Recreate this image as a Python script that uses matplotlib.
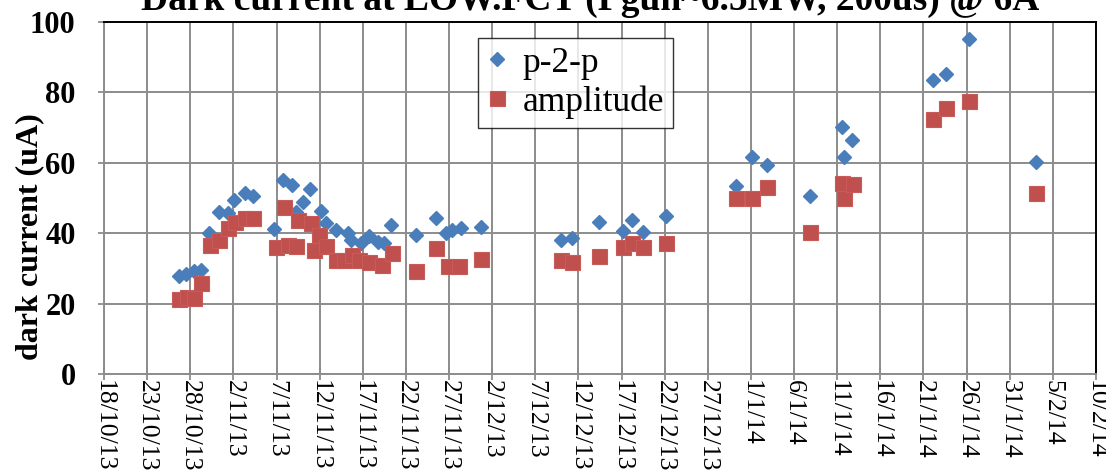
import matplotlib
matplotlib.use("Agg")
import matplotlib.pyplot as plt
import pandas as pd

# ---- data ----
p2p_dates = [
    "2013-10-26 15:30", "2013-10-27 13:00", "2013-10-28 10:00", "2013-10-29 06:30",
    "2013-10-30 04:00", "2013-10-31 09:00", "2013-11-01 08:00", "2013-11-02 03:00",
    "2013-11-03 09:40", "2013-11-04 07:50", "2013-11-06 18:10", "2013-11-07 17:15",
    "2013-11-08 19:20", "2013-11-09 06:30", "2013-11-10 00:45", "2013-11-10 21:20",
    "2013-11-12 03:50", "2013-11-12 17:45", "2013-11-13 21:30", "2013-11-15 05:45",
    "2013-11-15 15:15", "2013-11-16 19:00", "2013-11-17 18:00", "2013-11-18 17:00",
    "2013-11-19 11:45", "2013-11-20 06:20", "2013-11-23 03:45", "2013-11-25 11:20",
    "2013-11-26 15:00", "2013-11-27 09:30", "2013-11-28 08:45", "2013-11-30 16:20",
    "2013-12-09 22:30", "2013-12-11 06:45", "2013-12-14 09:00", "2013-12-17 03:40",
    "2013-12-18 05:30", "2013-12-19 12:00", "2013-12-22 05:00", "2013-12-30 06:20",
    "2014-01-01 02:45", "2014-01-02 20:30", "2014-01-07 21:00", "2014-01-11 12:45",
    "2014-01-11 17:30", "2014-01-12 18:30", "2014-01-22 03:30", "2014-01-23 14:45",
    "2014-01-26 06:40", "2014-02-03 00:45",
]
p2p_values = [
    27.8, 28.3, 29.3, 29.6,
    40.1, 45.9, 45.6, 49.4,
    51.5, 50.6, 41.1, 55.1,
    53.7, 46.1, 49.0, 52.5,
    46.3, 42.8, 40.9, 40.0,
    38.1, 37.1, 39.2, 37.6,
    37.1, 42.3, 39.5, 44.2,
    40.1, 40.9, 41.4, 41.7,
    38.1, 38.5, 43.3, 40.7,
    43.8, 40.4, 44.9, 53.4,
    61.6, 59.4, 50.7, 70.3,
    61.6, 66.5, 83.5, 85.1,
    95.2, 60.3,
]

amp_dates = [
    "2013-10-26 15:30", "2013-10-27 15:40", "2013-10-28 10:00", "2013-10-29 06:30",
    "2013-10-30 05:40", "2013-10-31 07:30", "2013-11-01 08:25", "2013-11-02 05:50",
    "2013-11-03 09:40", "2013-11-04 07:50", "2013-11-06 22:55", "2013-11-07 22:00",
    "2013-11-08 07:05", "2013-11-09 06:30", "2013-11-09 10:55", "2013-11-11 00:10",
    "2013-11-11 09:15", "2013-11-11 23:10", "2013-11-12 17:45", "2013-11-13 21:30",
    "2013-11-14 20:40", "2013-11-15 18:00", "2013-11-16 14:15", "2013-11-17 16:05",
    "2013-11-19 05:20", "2013-11-20 09:05", "2013-11-23 03:45", "2013-11-25 11:20",
    "2013-11-26 22:20", "2013-11-28 04:00", "2013-11-30 16:20", "2013-12-09 22:30",
    "2013-12-11 06:45", "2013-12-14 09:00", "2013-12-17 03:40", "2013-12-18 05:30",
    "2013-12-19 12:00", "2013-12-22 05:00", "2013-12-30 06:20", "2014-01-01 02:45",
    "2014-01-02 20:30", "2014-01-07 21:00", "2014-01-11 12:45", "2014-01-11 17:30",
    "2014-01-12 19:00", "2014-01-22 03:30", "2014-01-23 14:45", "2014-01-26 06:40",
    "2014-02-03 00:45",
]
amp_values = [
    21.2, 21.9, 21.5, 25.8,
    36.6, 38.1, 41.4, 43.3,
    44.2, 44.2, 36.0, 47.5,
    36.6, 36.4, 43.8, 42.8,
    35.2, 39.5, 36.4, 32.4,
    32.4, 33.8, 32.4, 31.9,
    31.0, 34.5, 29.4, 35.7,
    30.7, 30.7, 32.6, 32.4,
    31.9, 33.5, 36.0, 37.1,
    36.0, 37.1, 49.9, 49.9,
    53.0, 40.4, 54.4, 49.9,
    54.0, 72.4, 75.5, 77.6,
    51.5,
]

series_labels = ["p-2-p", "amplitude"]
title_text = "Dark current at LOW.FCT (Pgun~6.5MW, 200us) @ 6A"
y_label = "dark current (uA)"
x_start, x_end = "2013-10-18", "2014-02-10"

# ---- figure ----
W, H = 1106, 476
fig = plt.figure(figsize=(W / 100, H / 100), dpi=100)
ax = fig.add_axes([104 / W, 1 - 374 / H, (1096 - 104) / W, (374 - 22) / H])

serif = "Liberation Serif"
blue = "#4a7ebb"
red = "#c0504d"
grid_c = "#8c8c8c"

ax.plot(pd.to_datetime(p2p_dates), p2p_values, linestyle="none", marker="D",
        markersize=7.4, color=blue, markeredgecolor=blue, label=series_labels[0], zorder=3)
ax.plot(pd.to_datetime(amp_dates), amp_values, linestyle="none", marker="s",
        markersize=10.8, color=red, markeredgecolor="#c85a57", markeredgewidth=0.8,
        label=series_labels[1], zorder=4)

ax.set_xlim(pd.Timestamp(x_start), pd.Timestamp(x_end))
ax.set_ylim(0, 100)
ticks = pd.date_range(x_start, x_end, freq="5D")
ax.set_xticks(ticks)
ax.set_xticklabels([f"{d.day}/{d.month}/{d.year % 100}" for d in ticks],
                   rotation=-90, fontfamily=serif, fontsize=18.5)
ax.set_yticks(range(0, 101, 20))
ax.set_yticklabels([str(v) for v in range(0, 101, 20)],
                   fontfamily=serif, fontsize=22, fontweight="bold")
ax.tick_params(axis="both", direction="inout", length=9, width=1.3, color=grid_c)
ax.tick_params(axis="x", pad=0)
ax.tick_params(axis="y", pad=16)

ax.grid(True, color=grid_c, linewidth=1.4, zorder=0)
ax.set_axisbelow(True)
for s in ["left", "bottom"]:
    ax.spines[s].set_color(grid_c)
    ax.spines[s].set_linewidth(1.4)
for s in ["top", "right"]:
    ax.spines[s].set_color("black")
    ax.spines[s].set_linewidth(1.4)

ax.set_ylabel(y_label, fontfamily=serif, fontsize=23, fontweight="bold")
ax.yaxis.set_label_coords((44 - 104) / (1096 - 104), (374 - 237) / (374 - 22))

fig.text(590 / W, 1 - 10 / H, title_text, ha="center", va="baseline",
         fontfamily=serif, fontsize=27, fontweight="bold")

leg = ax.legend(loc="upper left", bbox_to_anchor=((478 - 104) / (1096 - 104), (374 - 38) / (374 - 22)),
                prop={"family": serif, "size": 25.5}, frameon=True, fancybox=False,
                edgecolor="black", handlelength=0.6, handletextpad=0.4,
                borderpad=0.25, labelspacing=0.15, borderaxespad=0)
leg.get_frame().set_linewidth(1.0)

fig.savefig("out.png", dpi=100)
